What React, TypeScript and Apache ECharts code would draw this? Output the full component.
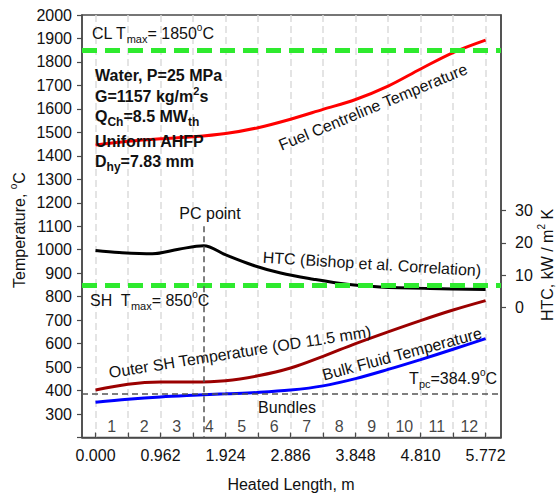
import React, { useEffect, useRef } from 'react';
import * as echarts from 'echarts';

const FONT = '"Liberation Sans", Arial, Helvetica, sans-serif';

// ---- data ----
const fuelX = [0, 0.481, 0.962, 1.443, 1.924, 2.405, 2.886, 3.367, 3.848, 4.329, 4.81, 5.291, 5.772];
const fuelT = [1446, 1462, 1473, 1481, 1495, 1520, 1556, 1598, 1640, 1697, 1770, 1840, 1893];

const htcX = [0, 0.35, 0.84, 1.23, 1.6, 1.92, 2.32, 2.74, 3.22, 3.72, 4.21, 4.95, 5.772];
const htcV = [17.6, 17.0, 16.6, 18.0, 19.1, 16.3, 13.1, 10.6, 8.7, 7.1, 6.3, 5.8, 5.5];

const shX = [0, 0.481, 0.962, 1.443, 1.924, 2.405, 2.886, 3.367, 3.848, 4.329, 4.81, 5.291, 5.772];
const shT = [402, 427, 436, 436, 442, 463, 496, 546, 600, 650, 698, 743, 783];

const bulkX = [0, 0.481, 0.962, 1.443, 1.924, 2.405, 2.886, 3.367, 3.848, 4.329, 4.81, 5.291, 5.772];
const bulkT = [350, 363, 373, 380, 386, 392, 402, 420, 451, 490, 532, 576, 621];

const xTickValues = [0, 0.481, 0.962, 1.443, 1.924, 2.405, 2.886, 3.367, 3.848, 4.329, 4.81, 5.291, 5.772];
const xLabelValues = [0, 0.962, 1.924, 2.886, 3.848, 4.81, 5.772];
const htcTickValues = [0, 10, 20, 30];
const bundleNames = ['1', '2', '3', '4', '5', '6', '7', '8', '9', '10', '11', '12'];
const bundleLength = 0.481;
const bundleLabelT = 248;
const limitTemps = [1850, 850];
const pseudoCriticalT = 384.9;
const pcPointX = 1.6;
const pcLineTop = 1100;

function pairs(xs: number[], ys: number[]) {
  return xs.map((x, i) => [x, ys[i]]);
}

const TXT = '#111';
const base = { fontSize: 16, fontFamily: FONT, fill: TXT };
const bold = { fontSize: 16, fontFamily: FONT, fill: TXT, fontWeight: 'bold' as const };
const rich = {
  n: base,
  b: bold,
  sub: { fontSize: 11, fontFamily: FONT, fill: TXT, padding: [12, 0, 0, 0] },
  sup: { fontSize: 10, fontFamily: FONT, fill: TXT, padding: [0, 0, 11, 0] },
  bsub: { fontSize: 12, fontFamily: FONT, fill: TXT, fontWeight: 'bold' as const, padding: [12, 0, 0, 0] },
  bsup: { fontSize: 11, fontFamily: FONT, fill: TXT, fontWeight: 'bold' as const, padding: [0, 0, 11, 0] },
};

function txt(x: number, y: number, text: string, extra: any = {}) {
  return {
    type: 'text',
    x,
    y,
    rotation: extra.rotation || 0,
    z: 100,
    style: {
      text,
      rich,
      fontSize: 16,
      fontFamily: FONT,
      fill: TXT,
      align: extra.align || 'left',
      verticalAlign: 'middle',
    },
  };
}

function curve(name: string, xs: number[], ys: number[], color: string, yAxisIndex = 0) {
  return {
    type: 'line',
    name,
    yAxisIndex,
    data: pairs(xs, ys),
    smooth: 0.35,
    showSymbol: false,
    z: 3,
    lineStyle: { color, width: 3 },
  };
}

export default function App() {
  const ref = useRef<HTMLDivElement>(null);
  useEffect(() => {
    const chart = echarts.init(ref.current!, null, { renderer: 'svg' });
    const axisColor = '#4a4a4a';
    const option: any = {
      animation: false,
      backgroundColor: '#fff',
      grid: {
        left: 82,
        right: 56,
        top: 15,
        bottom: 55.5,
        show: true,
        borderColor: axisColor,
        borderWidth: 1.5,
        containLabel: false,
        outerBoundsMode: 'none',
      },
      xAxis: {
        type: 'value',
        min: -0.2,
        max: 6.0,
        axisLine: { show: true, onZero: false, lineStyle: { color: axisColor, width: 1.5 } },
        axisTick: {
          show: true,
          inside: true,
          length: 5,
          customValues: xTickValues,
          lineStyle: { color: axisColor, width: 1.2 },
        },
        axisLabel: {
          customValues: xLabelValues,
          formatter: (v: number) => v.toFixed(3),
          fontSize: 16,
          fontFamily: FONT,
          color: TXT,
          margin: 10,
        },
        splitLine: { show: true, lineStyle: { color: '#dcdcdc', type: [7, 4], width: 1.5 } },
      },
      yAxis: [
        {
          type: 'value',
          min: 200,
          max: 2000,
          interval: 100,
          axisLine: { show: true, onZero: false, lineStyle: { color: axisColor, width: 1.5 } },
          axisTick: { show: true, inside: false, length: 5, lineStyle: { color: axisColor, width: 1.2 } },
          axisLabel: {
            formatter: (v: number) => (v === 200 ? '' : String(v)),
            fontSize: 16,
            fontFamily: FONT,
            color: TXT,
            margin: 10,
          },
          splitLine: { show: false },
        },
        {
          type: 'value',
          position: 'right',
          min: -40.5,
          max: 90.8,
          axisLine: { show: true, onZero: false, lineStyle: { color: axisColor, width: 1.5 } },
          axisTick: {
            show: true,
            inside: false,
            length: 5,
            customValues: htcTickValues,
            lineStyle: { color: axisColor, width: 1.2 },
          },
          axisLabel: {
            customValues: htcTickValues,
            fontSize: 16,
            fontFamily: FONT,
            color: TXT,
            margin: 14,
          },
          splitLine: { show: false },
        },
      ],
      series: [
        {
          type: 'line',
          name: 'limits',
          data: [],
          z: 1,
          markLine: {
            silent: true,
            symbol: 'none',
            label: { show: false },
            lineStyle: { color: '#2eea2e', type: [15, 8], width: 5 },
            data: limitTemps.map((t) => ({ yAxis: t })),
          },
        },
        {
          type: 'line',
          name: 'ref',
          data: [],
          z: 1,
          markLine: {
            silent: true,
            symbol: 'none',
            label: { show: false },
            lineStyle: { color: '#555', type: [6, 4], width: 1.5 },
            data: [
              { yAxis: pseudoCriticalT },
              [
                { coord: [pcPointX, pcLineTop] },
                { coord: [pcPointX, 200] },
              ],
            ],
          },
        },
        curve('Fuel Centreline Temperature', fuelX, fuelT, '#ff0000'),
        curve('HTC', htcX, htcV, '#000000', 1),
        curve('Outer SH Temperature', shX, shT, '#9b0000'),
        curve('Bulk Fluid Temperature', bulkX, bulkT, '#0000ff'),
        {
          type: 'scatter',
          name: 'Bundles',
          symbolSize: 0,
          data: bundleNames.map((b, i) => ({ value: [(i + 0.5) * bundleLength, bundleLabelT], name: b })),
          label: {
            show: true,
            position: 'inside',
            formatter: (p: any) => p.name,
            fontSize: 16,
            fontFamily: FONT,
            color: TXT,
          },
          z: 4,
        },
      ],
      graphic: [
        txt(92, 33, '{n|CL T}{sub|max}{n|= 1850}{sup|o}{n|C}'),
        txt(95, 75, '{b|Water, P=25 MPa}'),
        txt(95, 96, '{b|G=1157 kg/m}{bsup|2}{b|s}'),
        txt(95, 116, '{b|Q}{bsub|Ch}{b|=8.5 MW}{bsub|th}'),
        txt(95, 141, '{b|Uniform AHFP}'),
        txt(95, 161, '{b|D}{bsub|hy}{b|=7.83 mm}'),
        txt(373, 107, '{n|Fuel Centreline Temperature}', { align: 'center', rotation: 0.393 }),
        txt(210, 213, '{n|PC point}', { align: 'center' }),
        txt(372, 264, '{n|HTC (Bishop et al. Correlation)}', { align: 'center', rotation: -0.061 }),
        txt(90, 300, '{n|SH  T}{sub|max}{n|= 850}{sup|o}{n|C}'),
        txt(240, 352, '{n|Outer SH Temperature (OD 11.5 mm)}', { align: 'center', rotation: 0.157 }),
        txt(402, 354, '{n|Bulk Fluid Temperature}', { align: 'center', rotation: 0.262 }),
        txt(497, 378, '{n|T}{sub|pc}{n|=384.9}{sup|o}{n|C}', { align: 'right' }),
        txt(287, 407, '{n|Bundles}', { align: 'center' }),
        txt(291, 484, '{n|Heated Length, m}', { align: 'center' }),
        txt(19, 230, '{n|Temperature, }{sup|o}{n|C}', { align: 'center', rotation: Math.PI / 2 }),
        txt(547, 265, '{n|HTC, kW / m}{sup|2}{n| K}', { align: 'center', rotation: Math.PI / 2 }),
      ],
    };
    chart.setOption(option);
    return () => chart.dispose();
  }, []);
  return (
    <div
      ref={ref}
      style={{ position: 'fixed', left: 0, top: 0, width: 557, height: 493, background: '#fff' }}
    />
  );
}
